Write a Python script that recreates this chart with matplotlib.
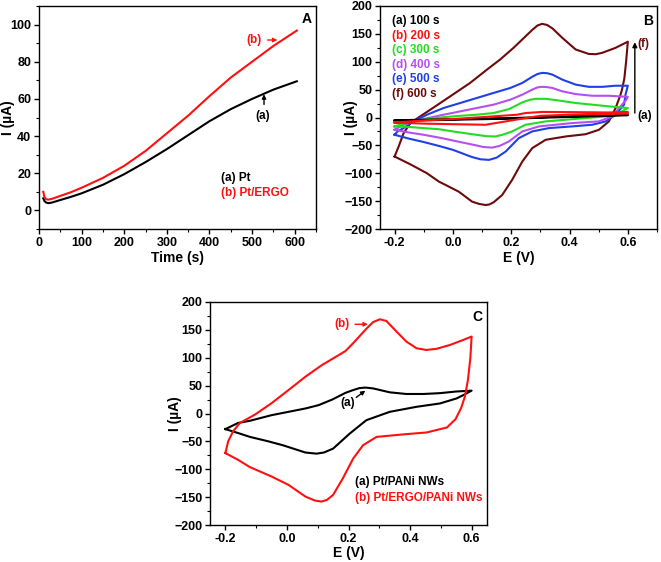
import matplotlib
matplotlib.use("Agg")
import matplotlib.pyplot as plt
import numpy as np

plt.rcParams['font.family'] = ['Liberation Sans', 'DejaVu Sans']
plt.rcParams['font.weight'] = 'bold'
plt.rcParams['axes.labelweight'] = 'bold'

# ---------------- Panel A data ----------------
time_s = [10, 13, 17, 22, 30, 50, 75, 100, 150, 200, 250, 300, 350, 400, 450, 500, 550, 605]
I_pt = [6.5, 5, 4.2, 3.9, 4.2, 5.6, 7.3, 9.2, 13.8, 19.5, 26, 33, 40.5, 48, 54.5, 60, 65, 69.5]
I_pt_ergo = [10, 7, 6, 5.8, 6.2, 7.8, 9.8, 12.2, 17.5, 24, 32, 41.5, 51, 61.5, 71.5, 80, 88.5, 96.8]

# ---------------- Panel B data (CV loops: forward then reverse) ----------------
E100_f = [-0.2, 0.0, 0.2, 0.4, 0.6]
I100_f = [-5, -3, -1, 2, 5]
E100_r = [0.6, 0.4, 0.2, 0.0, -0.2]
I100_r = [4, 1, -2, -4, -6]

E200_f = [-0.2, -0.089, 0.025, 0.139, 0.22, 0.249, 0.306, 0.421, 0.535, 0.6]
I200_f = [-9, -5, -2, 2, 5, 8, 10, 9.6, 9, 10]
E200_r = [0.6, 0.5, 0.4, 0.3, 0.238, 0.181, 0.112, 0.0, -0.1, -0.2]
I200_r = [7, 6, 5, 3, -2, -7, -13, -12, -11, -9]

E300_f = [-0.2, -0.146, -0.089, -0.032, 0.025, 0.082, 0.139, 0.192, 0.238, 0.262, 0.283, 0.318, 0.363, 0.421, 0.478, 0.535, 0.6]
I300_f = [-16, -7, -3, 0.6, 3, 5, 8, 15, 27, 31.5, 33.5, 33.5, 30.5, 26, 23, 20, 17]
E300_r = [0.6, 0.57, 0.524, 0.432, 0.318, 0.249, 0.203, 0.17, 0.146, 0.115, 0.08, 0.0, -0.048, -0.1, -0.15, -0.2]
I300_r = [17, 8, 2, -2, -7, -13, -25, -31, -34, -33.5, -31, -25, -21, -19, -17, -16]

E400_f = [-0.2, -0.169, -0.112, -0.032, 0.025, 0.082, 0.139, 0.197, 0.238, 0.272, 0.29, 0.306, 0.323, 0.341, 0.375, 0.421, 0.478, 0.535, 0.6]
I400_f = [-22, -13, -4, 5, 11, 17, 23, 32, 41, 50, 54, 55, 54.5, 53, 47, 42, 39, 39, 37]
E400_r = [0.6, 0.595, 0.58, 0.546, 0.501, 0.409, 0.295, 0.238, 0.192, 0.16, 0.135, 0.105, 0.08, 0.025, -0.048, -0.1, -0.15, -0.2]
I400_r = [37, 32, 23, 2, -7, -10, -16, -25, -43, -51, -54, -53, -50, -44, -36, -31, -27, -22]

E500_f = [-0.2, -0.19, -0.169, -0.135, -0.089, -0.032, 0.025, 0.082, 0.139, 0.197, 0.238, 0.272, 0.29, 0.306, 0.323, 0.341, 0.375, 0.421, 0.466, 0.512, 0.558, 0.6]
I500_f = [-31, -25, -19, -7, 5, 17, 26, 35, 44, 53, 62, 73, 78, 80, 79.5, 77, 68, 59, 55, 55, 57, 57]
E500_r = [0.6, 0.592, 0.587, 0.558, 0.524, 0.478, 0.409, 0.329, 0.272, 0.226, 0.181, 0.15, 0.124, 0.095, 0.066, 0.0, -0.048, -0.1, -0.15, -0.2]
I500_r = [57, 41, 23, 5, -7, -13, -16, -19, -25, -37, -61, -72, -76, -75, -71, -58, -51, -44, -38, -31]

E600_f = [-0.2, -0.186, -0.169, -0.146, -0.112, -0.066, -0.009, 0.059, 0.117, 0.162, 0.208, 0.238, 0.272, 0.29, 0.306, 0.323, 0.341, 0.375, 0.421, 0.466, 0.49, 0.512, 0.558, 0.6]
I600_f = [-70, -52, -28, -10, 2, 18, 38, 62, 86, 104, 125, 140, 157, 165, 168, 166, 160, 143, 122, 114, 113.5, 116, 125, 136]
E600_r = [0.6, 0.594, 0.588, 0.58, 0.575, 0.558, 0.535, 0.501, 0.455, 0.387, 0.318, 0.272, 0.238, 0.203, 0.169, 0.14, 0.125, 0.112, 0.09, 0.066, 0.02, -0.025, -0.048, -0.089, -0.146, -0.2]
I600_r = [136, 100, 70, 50, 41, 17, -7, -22, -30, -34, -40, -55, -79, -112, -139, -152, -156, -157, -155, -151, -133, -121, -115, -100, -84, -70]

B_labels = ['(a) 100 s', '(b) 200 s', '(c) 300 s', '(d) 400 s', '(e) 500 s', '(f) 600 s']
B_colors = ['#000000', '#ff1010', '#22dd22', '#b450f0', '#1e40e6', '#6e0a0a']

# ---------------- Panel C data ----------------
Ea_f = [-0.2, -0.159, -0.12, -0.05, 0.005, 0.06, 0.103, 0.147, 0.19, 0.215, 0.235, 0.255, 0.28, 0.334, 0.388, 0.443, 0.497, 0.551, 0.6]
Ia_f = [-28, -17, -13, -3, 3, 9, 15, 25, 37, 42, 45.5, 46.5, 45, 38, 35, 35, 36.5, 39.5, 41]
Ea_r = [0.6, 0.573, 0.551, 0.497, 0.421, 0.334, 0.258, 0.204, 0.15, 0.12, 0.096, 0.06, -0.013, -0.06, -0.12, -0.159, -0.2]
Ia_r = [41, 33, 27, 18, 12, 3, -12, -36, -63, -70, -72, -70, -57, -50, -42, -35, -28]

Eb_f = [-0.2, -0.191, -0.175, -0.153, -0.104, -0.05, 0.005, 0.06, 0.114, 0.169, 0.19, 0.215, 0.258, 0.28, 0.302, 0.323, 0.356, 0.388, 0.421, 0.453, 0.486, 0.53, 0.573, 0.6]
Ib_f = [-71, -50, -32, -17, -2, 18.5, 42, 66, 87, 105, 112, 126, 152, 164, 169, 166, 147, 129, 117, 114, 116, 123, 132, 138]
Eb_r = [0.6, 0.596, 0.588, 0.578, 0.566, 0.548, 0.52, 0.454, 0.367, 0.291, 0.247, 0.215, 0.182, 0.15, 0.13, 0.112, 0.09, 0.06, 0.005, -0.05, -0.121, -0.159, -0.2]
Ib_r = [138, 100, 60, 30, 10, -10, -25, -34, -38, -42, -57, -81, -116, -146, -155, -158, -156, -149, -128, -113, -96, -83, -71]

fig = plt.figure(figsize=(6.61, 5.62), dpi=100)

W = 277 / 661
H = 223 / 562
axA = fig.add_axes([39 / 661, 1 - 229 / 562, W, H])
axB = fig.add_axes([380 / 661, 1 - 229 / 562, W, H])
axC = fig.add_axes([210 / 661, 1 - 525 / 562, W, H])

def style(ax, ylab_x, xlab_y):
    for s in ax.spines.values():
        s.set_linewidth(1.0)
    ax.tick_params(which='major', direction='out', length=3.5, width=1.0, labelsize=9, pad=2)
    ax.tick_params(which='minor', direction='out', length=2, width=0.8)
    for lab in ax.get_xticklabels() + ax.get_yticklabels():
        lab.set_fontweight('bold')
    ax.yaxis.set_label_coords(ylab_x, 0.5)
    ax.xaxis.set_label_coords(0.5, xlab_y)

# ----- A -----
axA.plot(time_s, I_pt, color='black', lw=1.5)
axA.plot(time_s, I_pt_ergo, color='#ff1010', lw=1.5)
axA.set_xlim(0, 650)
axA.set_ylim(-10, 110)
axA.set_xticks(np.arange(0, 601, 100))
axA.set_xticks(np.arange(0, 651, 50), minor=True)
axA.set_yticks(np.arange(0, 101, 20))
axA.set_yticks(np.arange(-10, 111, 10), minor=True)
axA.set_xlabel('Time (s)', fontsize=10, fontweight='bold', va='center')
axA.set_ylabel('I (\u00b5A)', fontsize=10, fontweight='bold', va='center')
style(axA, -0.113, -0.13)
axA.text(0.985, 0.975, 'A', transform=axA.transAxes, ha='right', va='top', fontsize=10, fontweight='bold')
axA.text(505, 91.7, '(b)', color='#ff1010', ha='center', va='center', fontsize=8.5, fontweight='bold')
axA.annotate('', xy=(566, 91.7), xytext=(530, 91.7),
             arrowprops=dict(arrowstyle='-|>', color='#ff1010', lw=1.0, mutation_scale=6))
axA.text(526, 50.7, '(a)', color='black', ha='center', va='center', fontsize=8.5, fontweight='bold')
axA.annotate('', xy=(528, 64), xytext=(528, 55.5),
             arrowprops=dict(arrowstyle='-|>', color='black', lw=1.0, mutation_scale=6))
axA.text(427, 17.3, '(a) Pt', color='black', ha='left', va='center', fontsize=8.5, fontweight='bold')
axA.text(427, 9.2, '(b) Pt/ERGO', color='#ff1010', ha='left', va='center', fontsize=8.5, fontweight='bold')

# ----- B -----
B_curves = [
    (E100_f + E100_r, I100_f + I100_r),
    (E200_f + E200_r, I200_f + I200_r),
    (E300_f + E300_r, I300_f + I300_r),
    (E400_f + E400_r, I400_f + I400_r),
    (E500_f + E500_r, I500_f + I500_r),
    (E600_f + E600_r, I600_f + I600_r),
]
order = [5, 4, 3, 2, 0, 1]
for k in order:
    E, I = B_curves[k]
    axB.plot(E, I, color=B_colors[k], lw=1.5)
axB.set_xlim(-0.25, 0.7)
axB.set_ylim(-200, 200)
axB.set_xticks(np.arange(-0.2, 0.61, 0.2))
axB.set_xticks(np.arange(-0.2, 0.71, 0.1), minor=True)
axB.set_yticks(np.arange(-200, 201, 50))
axB.set_yticks(np.arange(-200, 201, 25), minor=True)
axB.set_xticklabels(['-0.2', '0.0', '0.2', '0.4', '0.6'])
axB.set_xlabel('E (V)', fontsize=10, fontweight='bold', va='center')
axB.set_ylabel('I (\u00b5A)', fontsize=10, fontweight='bold', va='center')
style(axB, -0.105, -0.13)
axB.text(0.985, 0.965, 'B', transform=axB.transAxes, ha='right', va='top', fontsize=10, fontweight='bold')
for i, (lab, col) in enumerate(zip(B_labels, B_colors)):
    axB.text(-0.21, 173 - i * 26.1, lab, color=col, ha='left', va='center', fontsize=8.5, fontweight='bold')
axB.annotate('', xy=(0.624, 140), xytext=(0.624, 3),
             arrowprops=dict(arrowstyle='-|>', color='black', lw=1.0, mutation_scale=7))
axB.text(0.634, 2, '(a)', color='black', ha='left', va='center', fontsize=8.5, fontweight='bold')
axB.text(0.634, 131, '(f)', color='#6e0a0a', ha='left', va='center', fontsize=8.5, fontweight='bold')

# ----- C -----
axC.plot(Ea_f + Ea_r, Ia_f + Ia_r, color='black', lw=1.5)
axC.plot(Eb_f + Eb_r, Ib_f + Ib_r, color='#ff1010', lw=1.5)
axC.set_xlim(-0.25, 0.65)
axC.set_ylim(-200, 200)
axC.set_xticks(np.arange(-0.2, 0.61, 0.2))
axC.set_xticks(np.arange(-0.2, 0.61, 0.1), minor=True)
axC.set_yticks(np.arange(-200, 201, 50))
axC.set_yticks(np.arange(-200, 201, 25), minor=True)
axC.set_xticklabels(['-0.2', '0.0', '0.2', '0.4', '0.6'])
axC.set_xlabel('E (V)', fontsize=10, fontweight='bold', va='center')
axC.set_ylabel('I (\u00b5A)', fontsize=10, fontweight='bold', va='center')
style(axC, -0.125, -0.126)
axC.text(0.985, 0.965, 'C', transform=axC.transAxes, ha='right', va='top', fontsize=10, fontweight='bold')
axC.text(0.178, 160, '(b)', color='#ff1010', ha='center', va='center', fontsize=8.5, fontweight='bold')
axC.annotate('', xy=(0.272, 160), xytext=(0.212, 160),
             arrowprops=dict(arrowstyle='-|>', color='#ff1010', lw=1.0, mutation_scale=6))
axC.text(0.197, 19, '(a)', color='black', ha='center', va='center', fontsize=8.5, fontweight='bold')
axC.annotate('', xy=(0.262, 44), xytext=(0.218, 26),
             arrowprops=dict(arrowstyle='-|>', color='black', lw=1.0, mutation_scale=6))
axC.text(0.22, -123, '(a) Pt/PANi NWs', color='black', ha='left', va='center', fontsize=8.5, fontweight='bold')
axC.text(0.22, -152, '(b) Pt/ERGO/PANi NWs', color='#ff1010', ha='left', va='center', fontsize=8.5, fontweight='bold')

fig.savefig('out.png', dpi=100)
